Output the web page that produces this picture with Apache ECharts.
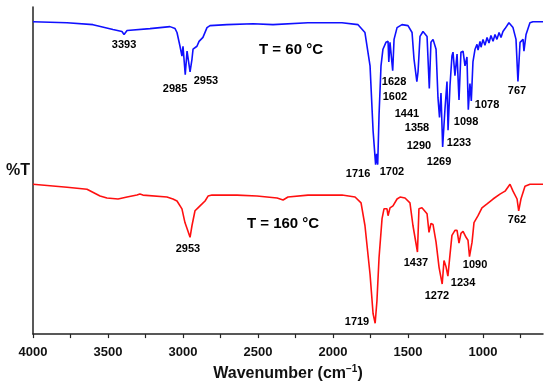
<!DOCTYPE html>
<html><head><meta charset="utf-8">
<script src="https://cdn.jsdelivr.net/npm/echarts@6/dist/echarts.min.js"></script>
<style>html,body{margin:0;padding:0;background:#fff}#c{width:550px;height:387px}</style>
</head><body><div id="c"></div>
<script>
// Wavenumber (cm-1) and transmittance (arbitrary %T units, offset traces)
const blueWave = [4000,3773,3600,3467,3407,3393,3373,3220,3087,3053,3040,3020,3007,3000,2985,2973,2953,2940,2933,2907,2893,2880,2867,2840,2820,2707,2533,2400,2167,1940,1833,1787,1753,1733,1716,1709,1702,1693,1680,1667,1647,1633,1628,1620,1607,1602,1593,1573,1540,1500,1473,1460,1441,1433,1420,1400,1373,1358,1347,1333,1313,1300,1290,1280,1269,1253,1240,1233,1220,1207,1200,1187,1173,1160,1147,1133,1120,1107,1098,1087,1078,1067,1053,1040,1033,1020,1013,1000,987,973,960,947,933,920,907,893,880,867,853,827,800,780,767,753,733,727,713,687,667,600];
const blueT = [95.5,95.2,94.6,93.1,92.5,91.6,92.8,93.4,94.0,93.4,92.2,88.0,85.0,88.0,79.3,86.5,80.2,84.1,87.1,88.0,89.5,89.2,90.7,93.7,94.3,94.6,94.9,94.6,95.2,95.2,94.6,92.2,82.0,62.3,51.8,55.1,51.8,67.1,82.0,87.1,89.2,89.5,83.2,89.2,88.6,80.5,90.1,93.7,94.6,94.3,92.2,84.1,77.2,80.2,91.0,92.5,91.0,75.1,89.2,90.1,87.1,72.2,66.2,73.7,57.2,69.2,77.2,62.3,76.0,85.0,86.2,79.0,85.6,71.6,86.2,86.5,82.0,84.7,68.6,76.6,71.3,83.2,87.1,88.6,86.8,89.5,87.7,90.1,88.3,90.7,89.0,91.3,89.5,91.6,90.1,92.2,90.7,92.5,93.4,95.2,93.7,90.1,77.2,89.2,90.1,86.5,91.6,95.2,95.5,95.5];
const redWave = [4000,3773,3640,3553,3507,3433,3373,3307,3287,3267,3107,3067,3040,3007,2987,2973,2953,2940,2920,2900,2873,2853,2833,2807,2640,2507,2373,2333,2300,2167,1940,1853,1813,1787,1753,1733,1719,1707,1693,1673,1660,1640,1633,1620,1607,1600,1573,1553,1520,1487,1467,1437,1427,1407,1373,1360,1347,1333,1313,1293,1272,1260,1247,1234,1220,1207,1187,1173,1160,1147,1133,1113,1100,1090,1073,1060,1033,1007,973,933,887,853,820,800,773,762,747,720,687,600];
const redT = [45.8,44.9,44.3,42.2,41.6,41.3,41.9,42.5,42.8,42.5,41.9,41.3,40.7,38.3,34.1,32.3,29.6,33.2,37.7,38.6,39.8,40.7,42.2,42.5,42.5,42.2,41.6,41.0,41.9,42.5,42.5,41.9,40.1,33.2,18.3,6.3,3.3,10.2,23.4,35.3,38.3,38.3,36.2,38.6,38.3,39.2,41.3,41.9,41.6,40.1,33.2,25.1,38.3,38.6,36.8,31.1,33.8,33.5,28.1,20.4,15.3,22.5,20.7,17.7,24.3,30.2,31.7,31.7,27.8,30.8,31.4,29.6,28.7,23.7,28.1,34.1,36.2,38.6,39.8,41.3,42.8,43.7,45.8,43.7,41.3,37.7,41.3,45.2,45.8,45.8];
const xTickLabels = [1000,1500,2000,2500,3000,3500,4000];
const xTickMarks = [750,1000,1250,1500,1750,2000,2250,2500,2750,3000,3250,3500,3750,4000];

// peak annotations: [text, wavenumber anchor, %T anchor]
const peakLabels = [
  ['3393',3393,88.3],['2985',3053,74.9],['2953',2847,77.5],
  ['1628',1593,77.2],['1602',1587,72.5],['1441',1507,67.4],['1358',1440,62.9],
  ['1290',1427,57.5],['1269',1293,52.7],['1233',1160,58.4],['1098',1113,65.0],
  ['1078',973,70.1],['767',773,74.3],['1716',1833,49.1],['1702',1607,49.7],
  ['2953',2967,26.0],['1437',1447,21.6],['1272',1307,11.7],['1234',1133,15.6],
  ['1090',1053,21.0],['762',773,35.0],['1719',1840,3.6]
];
const tempLabels = [['T = 60 °C',2280,86.8],['T = 160 °C',2333,33.8]];

const zip = (a,b) => a.map((v,i)=>[v,b[i]]);
const font = 'Arial, "Liberation Sans", sans-serif';
const chart = echarts.init(document.getElementById('c'));
chart.setOption({
  animation:false,
  backgroundColor:'#fff',
  grid:{left:33,right:7,top:7,bottom:46},
  xAxis:{
    type:'value', inverse:true, min:600, max:4000,
    axisLine:{show:true,onZero:false,lineStyle:{color:'#222',width:1.5}},
    axisTick:{show:true,length:4,lineStyle:{color:'#222',width:1.2},customValues:xTickMarks},
    axisLabel:{customValues:xTickLabels,formatter:v=>String(v),color:'#111',fontWeight:'bold',fontSize:13,fontFamily:font,margin:12},
    splitLine:{show:false},
    name:'Wavenumber (cm{sup|−1})', nameLocation:'middle', nameGap:29,
    nameTextStyle:{color:'#111',fontWeight:'bold',fontSize:16,fontFamily:font,
      rich:{sup:{fontSize:10,fontWeight:'bold',fontFamily:font,color:'#111',verticalAlign:'top',padding:[0,0,10,0]}}}
  },
  yAxis:{
    type:'value', min:0, max:100,
    axisLine:{show:true,lineStyle:{color:'#222',width:1.5}},
    axisTick:{show:false}, axisLabel:{show:false}, splitLine:{show:false},
    name:'%T', nameLocation:'middle', nameRotate:0, nameGap:3,
    nameTextStyle:{color:'#111',fontWeight:'bold',fontSize:16,fontFamily:font,padding:[0,0,14,0]}
  },
  series:[
    {type:'line',data:zip(blueWave,blueT),showSymbol:false,lineStyle:{color:'#1010ff',width:1.6},z:3},
    {type:'line',data:zip(redWave,redT),showSymbol:false,lineStyle:{color:'#ff1010',width:1.6},z:3},
    {type:'scatter',symbolSize:0,silent:true,itemStyle:{opacity:1},
      data:peakLabels.map(d=>({name:d[0],value:[d[1],d[2]]})),
      label:{show:true,position:'inside',formatter:'{b}',color:'#000',opacity:1,fontWeight:'bold',fontSize:11,fontFamily:font}},
    {type:'scatter',symbolSize:0,silent:true,itemStyle:{opacity:1},
      data:tempLabels.map(d=>({name:d[0],value:[d[1],d[2]]})),
      label:{show:true,position:'inside',formatter:'{b}',color:'#000',opacity:1,fontWeight:'bold',fontSize:15,fontFamily:font}}
  ]
});
</script></body></html>
